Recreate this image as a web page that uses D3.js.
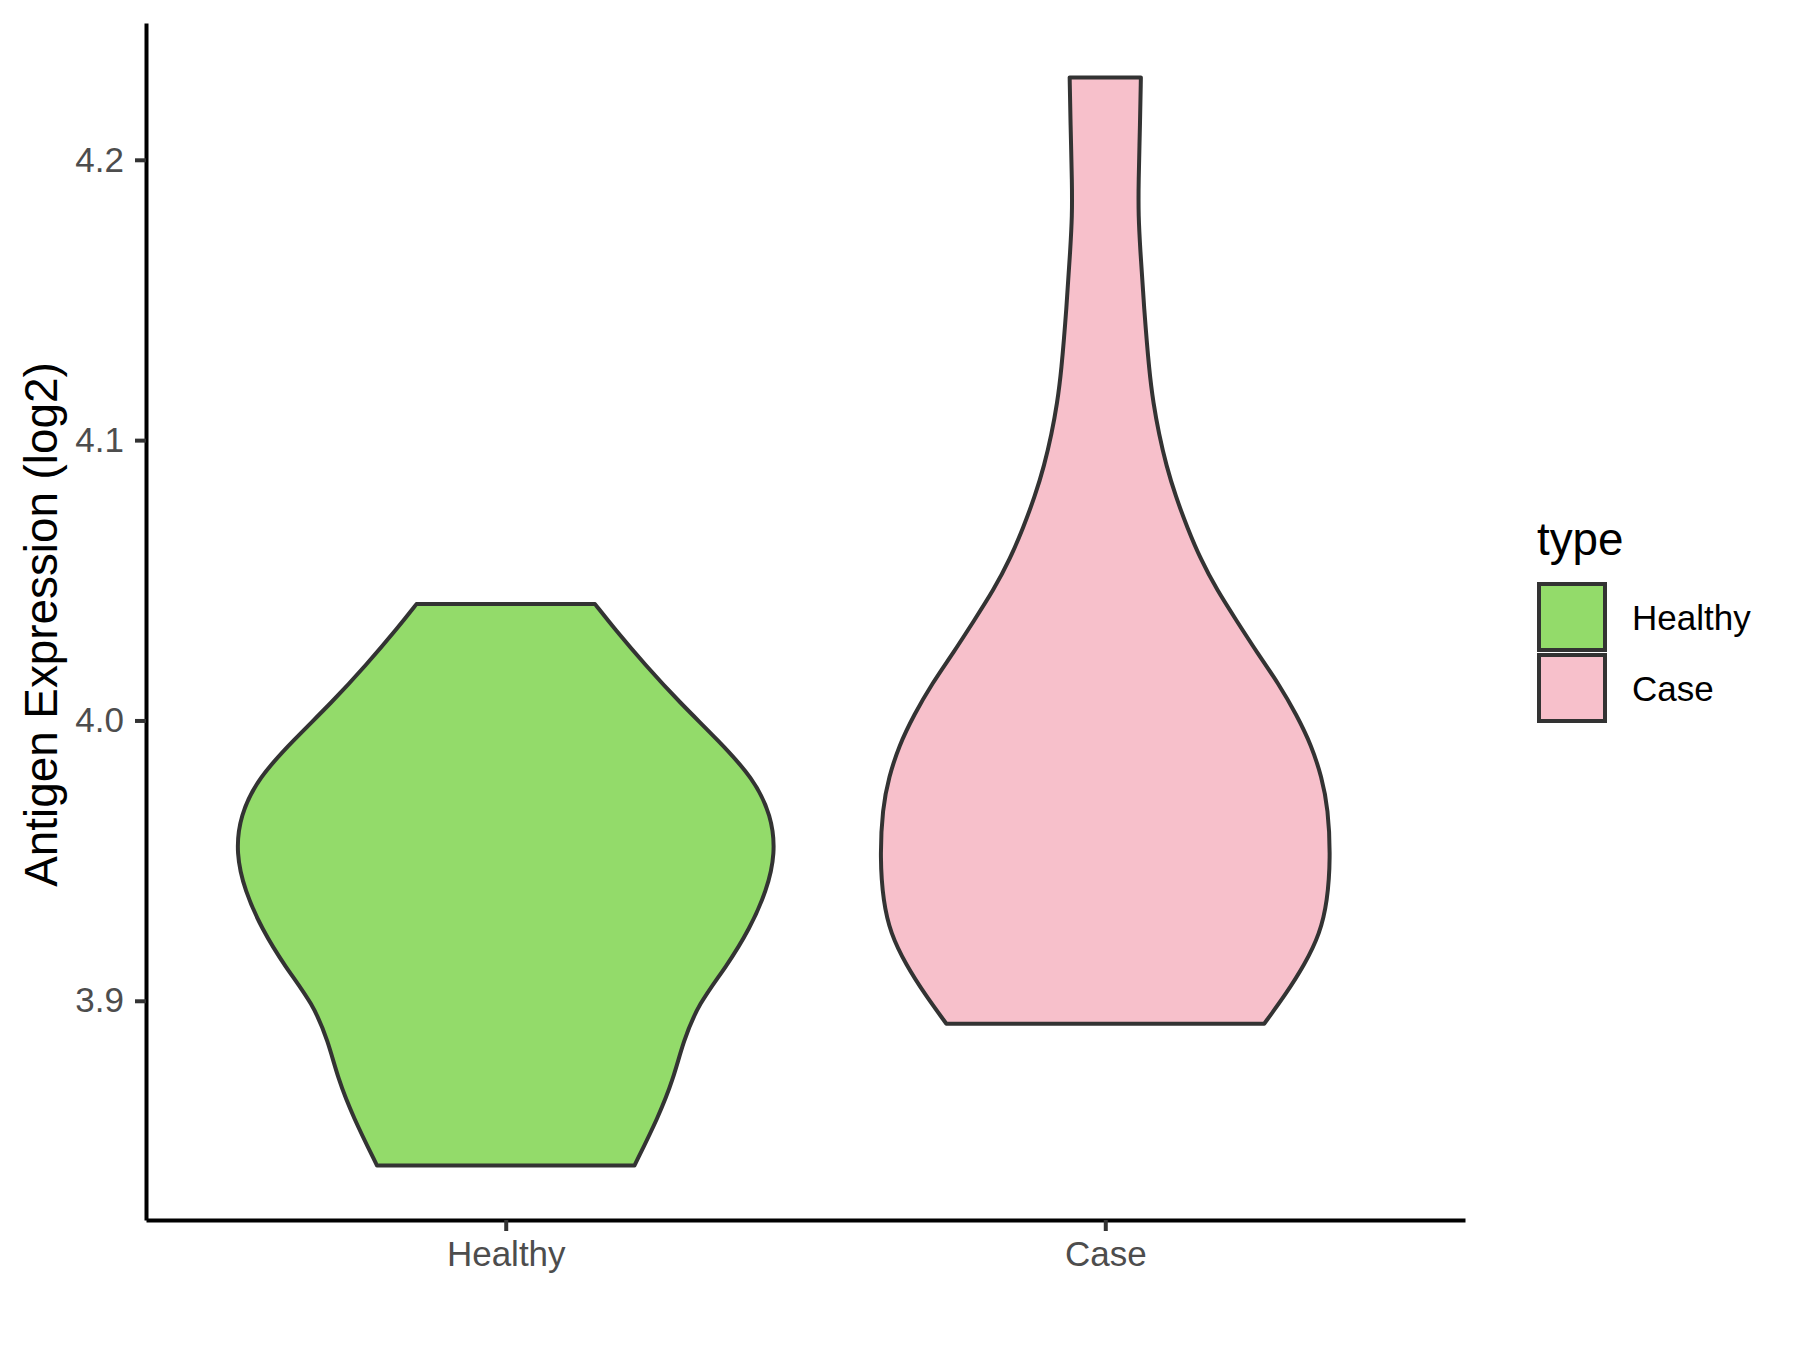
<!DOCTYPE html>
<html>
<head>
<meta charset="utf-8">
<script src="https://cdn.jsdelivr.net/npm/d3@7"></script>
<style>
  body { margin: 0; background: #fff; }
  svg { display: block; font-family: "Liberation Sans", Arial, sans-serif; }
</style>
</head>
<body>
<div id="chart"></div>
<script>
// groups and colours
var groups = ["Healthy", "Case"];
var fills = ["#93DB6A", "#F7C0CB"];

// violin outlines: value (log2) and relative density
var healthyValues = [4.0415, 4.0332, 4.0198, 4.0063, 3.9929, 3.9795, 3.9661, 3.9526, 3.9392, 3.9258, 3.9123, 3.8989, 3.8855, 3.8720, 3.8586, 3.8412];
var healthyDensity = [0.331, 0.399, 0.517, 0.646, 0.788, 0.917, 0.985, 1.000, 0.967, 0.905, 0.819, 0.714, 0.658, 0.621, 0.566, 0.477];

var caseValues = [4.2294, 4.2134, 4.1912, 4.1800, 4.1689, 4.1466, 4.1244, 4.1133, 4.1021, 4.0910, 4.0799, 4.0688, 4.0576, 4.0465, 4.0354, 4.0243, 4.0132, 4.0020, 3.9909, 3.9798, 3.9687, 3.9508, 3.9353, 3.9241, 3.9130, 3.9019, 3.8918];
var caseDensity = [0.132, 0.129, 0.123, 0.123, 0.129, 0.144, 0.163, 0.178, 0.199, 0.226, 0.261, 0.304, 0.353, 0.414, 0.488, 0.562, 0.642, 0.709, 0.765, 0.802, 0.826, 0.835, 0.823, 0.796, 0.740, 0.666, 0.589];

var yTicks = [3.9, 4.0, 4.1, 4.2];
var yDomain = [3.8218, 4.2488];

var W = 1800, H = 1350;
var plotLeft = 146, plotRight = 1465, plotTop = 23, plotBottom = 1220;

var svg = d3.select("#chart")
  .append("svg")
    .attr("width", W)
    .attr("height", H);

var x = d3.scalePoint()
  .domain(groups)
  .range([plotLeft, plotRight])
  .padding(0.6);

var y = d3.scaleLinear()
  .domain(yDomain)
  .range([plotBottom, plotTop]);

// half width of a violin, density 1 = 0.45 of the category step
var w = d3.scaleLinear()
  .domain([0, 1])
  .range([0, 0.45 * x.step()]);

var violins = [
  {name: "Healthy", vals: healthyValues, dens: healthyDensity, fill: fills[0]},
  {name: "Case", vals: caseValues, dens: caseDensity, fill: fills[1]}
];

violins.forEach(function(v) {
  var pts = v.vals.map(function(d, i) { return {v: d, d: v.dens[i]}; });
  var cx = x(v.name);
  var area = d3.area()
    .curve(d3.curveBasis)
    .y(function(p) { return y(p.v); })
    .x0(function(p) { return cx - w(p.d); })
    .x1(function(p) { return cx + w(p.d); });
  svg.append("path")
    .datum(pts)
    .attr("d", area)
    .attr("fill", v.fill)
    .attr("stroke", "#333333")
    .attr("stroke-width", 4)
    .attr("stroke-linejoin", "round");
});

// axes
var yAxis = svg.append("g")
  .attr("transform", "translate(" + plotLeft + ",0)")
  .call(d3.axisLeft(y).tickValues(yTicks).tickFormat(d3.format(".1f"))
    .tickSize(11).tickSizeOuter(0).tickPadding(11));

var xAxis = svg.append("g")
  .attr("transform", "translate(0," + plotBottom + ")")
  .call(d3.axisBottom(x).tickSize(11).tickSizeOuter(0).tickPadding(10));

[yAxis, xAxis].forEach(function(g) {
  g.select(".domain").attr("stroke", "#000").attr("stroke-width", 4);
  g.selectAll(".tick line").attr("stroke", "#333333").attr("stroke-width", 4);
  g.selectAll(".tick text")
    .attr("fill", "#4D4D4D")
    .style("font-size", "35px")
    .style("font-family", "'Liberation Sans', Arial, sans-serif");
});

// y title
svg.append("text")
  .attr("transform", "translate(57," + ((plotTop + plotBottom) / 2 + 3) + ") rotate(-90)")
  .attr("text-anchor", "middle")
  .style("font-size", "45.8px")
  .attr("fill", "#000")
  .text("Antigen Expression (log2)");

// legend
var legend = svg.append("g").attr("transform", "translate(1537,0)");
legend.append("text")
  .attr("x", 0)
  .attr("y", 555)
  .style("font-size", "45.8px")
  .attr("fill", "#000")
  .text("type");

groups.forEach(function(g, i) {
  var ky = 584 + i * 71;
  legend.append("rect")
    .attr("x", 2)
    .attr("y", ky)
    .attr("width", 66)
    .attr("height", 66)
    .attr("fill", fills[i])
    .attr("stroke", "#333333")
    .attr("stroke-width", 4);
  legend.append("text")
    .attr("x", 95)
    .attr("y", ky + 33)
    .attr("dy", "0.36em")
    .style("font-size", "35px")
    .attr("fill", "#000")
    .text(g);
});
</script>
</body>
</html>
